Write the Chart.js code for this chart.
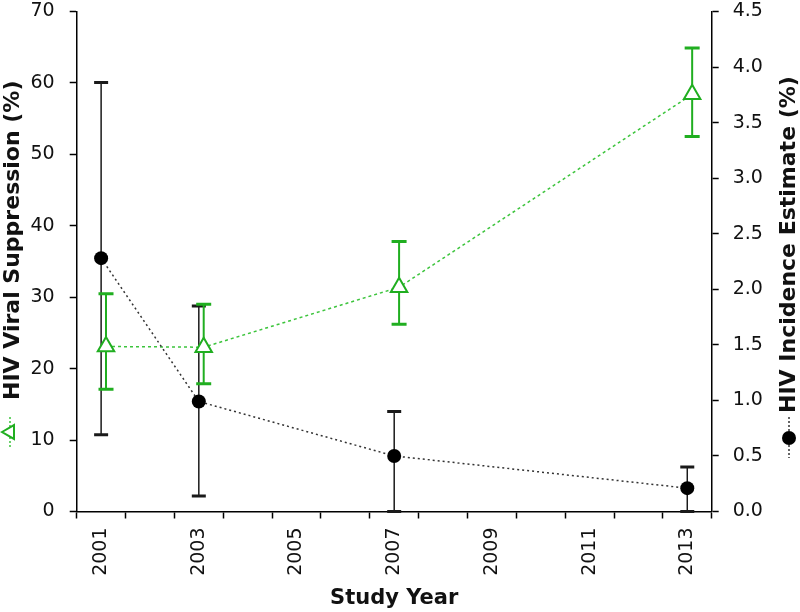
<!DOCTYPE html>
<html>
<head>
<meta charset="utf-8">
<title>HIV viral suppression and incidence</title>
<script src="https://cdn.jsdelivr.net/npm/chart.js@4.4.1/dist/chart.umd.min.js"></script>
<style>
  html, body { margin: 0; padding: 0; background: #fff; }
  canvas { display: block; }
</style>
</head>
<body>
<canvas id="chart" width="800" height="612"></canvas>
<script>
/* ---------- data ---------- */
const years = [2001, 2003, 2007, 2013];
const yearLabels = [2001, 2003, 2005, 2007, 2009, 2011, 2013];

// HIV viral suppression (%), left axis
const suppression     = [23.1, 23.0, 31.4, 58.4];
const suppressionLow  = [17.1, 17.9, 26.2, 52.5];
const suppressionHigh = [30.5, 29.0, 37.8, 64.9];

// HIV incidence estimate (%), right axis
const incidence     = [2.28, 0.99, 0.50, 0.21];
const incidenceLow  = [0.69, 0.14, 0.00, 0.00];
const incidenceHigh = [3.86, 1.85, 0.90, 0.40];

const GREEN_SHIFT = 0.1; // green series sits a little to the right of the year

/* ---------- styles ---------- */
const GREEN = '#20ae20';
const GREEN_LINE = '#3cc43c';
const BLACK = '#111';
const FONT = 'DejaVu Sans';

/* ---------- plugins ---------- */
const errorBars = {
  id: 'errorBars',
  beforeDatasetsDraw(chart) {
    const ctx = chart.ctx;
    chart.data.datasets.forEach((ds, i) => {
      const meta = chart.getDatasetMeta(i);
      const ys = chart.scales[ds.yAxisID];
      ctx.save();
      ctx.strokeStyle = ds.errColor;
      meta.data.forEach((pt, j) => {
        const lo = ys.getPixelForValue(ds.errLow[j]);
        const hi = ys.getPixelForValue(ds.errHigh[j]);
        ctx.lineWidth = ds.errWidth;
        ctx.beginPath();
        ctx.moveTo(pt.x, lo);
        ctx.lineTo(pt.x, hi);
        ctx.stroke();
        ctx.lineWidth = 3;
        ctx.beginPath();
        ctx.moveTo(pt.x - ds.capHalf, lo); ctx.lineTo(pt.x + ds.capHalf, lo);
        ctx.moveTo(pt.x - ds.capHalf, hi); ctx.lineTo(pt.x + ds.capHalf, hi);
        ctx.stroke();
      });
      ctx.restore();
    });
  }
};

// rotated axis titles with their legend key in front, like the original
function drawKeyTitle(ctx, x, y, text, key) {
  ctx.save();
  ctx.translate(x, y);
  ctx.rotate(-Math.PI / 2);
  // dotted key line
  ctx.strokeStyle = key.lineColor;
  ctx.lineWidth = 1.5;
  ctx.setLineDash([2, 2]);
  ctx.beginPath();
  ctx.moveTo(key.from, key.v);
  ctx.lineTo(key.to, key.v);
  ctx.stroke();
  ctx.setLineDash([]);
  const cu = key.u, cv = key.v;
  if (key.shape === 'triangle') {
    const r = 8;
    ctx.beginPath();
    ctx.moveTo(cu, cv - r);
    ctx.lineTo(cu + r * Math.sin(2 * Math.PI / 3), cv - r * Math.cos(2 * Math.PI / 3));
    ctx.lineTo(cu + r * Math.sin(4 * Math.PI / 3), cv - r * Math.cos(4 * Math.PI / 3));
    ctx.closePath();
    ctx.fillStyle = '#fff';
    ctx.fill();
    ctx.strokeStyle = GREEN;
    ctx.lineWidth = 2;
    ctx.stroke();
  } else {
    ctx.beginPath();
    ctx.arc(cu, cv, 7, 0, Math.PI * 2);
    ctx.fillStyle = '#000';
    ctx.fill();
  }
  ctx.fillStyle = BLACK;
  ctx.font = 'bold 22px "' + FONT + '"';
  ctx.textAlign = 'left';
  ctx.textBaseline = 'alphabetic';
  ctx.fillText(text, 0, 0);
  ctx.restore();
}

const titles = {
  id: 'titles',
  afterDraw(chart) {
    const ctx = chart.ctx;
    const a = chart.chartArea;
    drawKeyTitle(ctx, 18.5, 400, 'HIV Viral Suppression (%)',
      { shape: 'triangle', u: -32, v: -8.5, from: -17, to: -48, lineColor: GREEN_LINE });
    drawKeyTitle(ctx, 795, 413, 'HIV Incidence Estimate (%)',
      { shape: 'circle', u: -25, v: -6, from: -4, to: -45, lineColor: '#333' });
    ctx.save();
    ctx.fillStyle = BLACK;
    ctx.font = 'bold 21px "' + FONT + '"';
    ctx.textAlign = 'center';
    ctx.textBaseline = 'alphabetic';
    ctx.fillText('Study Year', (a.left + a.right) / 2, 604);
    ctx.restore();
  }
};

/* ---------- chart ---------- */
const axisCommon = {
  border: { color: '#000', width: 1.5 },
  grid: { drawOnChartArea: false, drawTicks: true, tickLength: 7, tickWidth: 1.5, tickColor: '#000' },
  ticks: { color: BLACK, font: { family: FONT, size: 19 } }
};

function noOverflow(scale) {
  scale.paddingTop = 0;
  scale.paddingBottom = 0;
  scale.paddingLeft = 0;
  scale.paddingRight = 0;
}

new Chart(document.getElementById('chart'), {
  type: 'line',
  data: {
    datasets: [
      {
        label: 'HIV Incidence Estimate (%)',
        yAxisID: 'y1',
        data: years.map((yr, i) => ({ x: yr, y: incidence[i] })),
        errLow: incidenceLow, errHigh: incidenceHigh,
        errColor: '#1a1a1a', errWidth: 1.5, capHalf: 7,
        borderColor: '#333', borderWidth: 1.5, borderDash: [2, 3],
        pointStyle: 'circle', pointRadius: 7, pointBackgroundColor: '#000',
        pointBorderColor: '#000', pointBorderWidth: 0,
        fill: false, tension: 0, clip: false
      },
      {
        label: 'HIV Viral Suppression (%)',
        yAxisID: 'y',
        data: years.map((yr, i) => ({ x: yr + GREEN_SHIFT, y: suppression[i] })),
        errLow: suppressionLow, errHigh: suppressionHigh,
        errColor: GREEN, errWidth: 2, capHalf: 7.5,
        borderColor: GREEN_LINE, borderWidth: 1.5, borderDash: [3, 3],
        pointStyle: 'triangle', pointRadius: 9.5, pointBackgroundColor: '#fff',
        pointBorderColor: GREEN, pointBorderWidth: 2,
        fill: false, tension: 0, clip: false
      }
    ]
  },
  options: {
    responsive: false,
    devicePixelRatio: 1,
    animation: false,
    layout: { padding: { top: 10.5, left: 0, right: 0, bottom: 0 } },
    plugins: { legend: { display: false }, tooltip: { enabled: false } },
    scales: {
      x: {
        type: 'linear',
        position: 'bottom',
        min: 2000.5,
        max: 2013.5,
        ...axisCommon,
        grid: {
          ...axisCommon.grid,
          tickColor: c => Number.isInteger(c.tick.value) ? 'rgba(0,0,0,0)' : '#000'
        },
        ticks: {
          ...axisCommon.ticks,
          autoSkip: false,
          minRotation: 90,
          maxRotation: 90,
          padding: 9,
          callback: v => yearLabels.includes(v) ? String(v) : ''
        },
        afterBuildTicks(scale) {
          const t = [];
          for (let k = 0; k <= 26; k++) t.push({ value: 2000.5 + k * 0.5 });
          scale.ticks = t;
        },
        afterFit(scale) { scale.height = 100.5; noOverflow(scale); }
      },
      y: {
        position: 'left',
        min: 0,
        max: 70,
        ...axisCommon,
        ticks: { ...axisCommon.ticks, stepSize: 10, padding: 15 },
        afterFit(scale) { scale.width = 76.7; noOverflow(scale); }
      },
      y1: {
        position: 'right',
        min: 0,
        max: 4.5,
        ...axisCommon,
        ticks: { ...axisCommon.ticks, stepSize: 0.5, padding: 14, callback: v => v.toFixed(1) },
        afterFit(scale) { scale.width = 88.3; noOverflow(scale); }
      }
    }
  },
  plugins: [errorBars, titles]
});
</script>
</body>
</html>
